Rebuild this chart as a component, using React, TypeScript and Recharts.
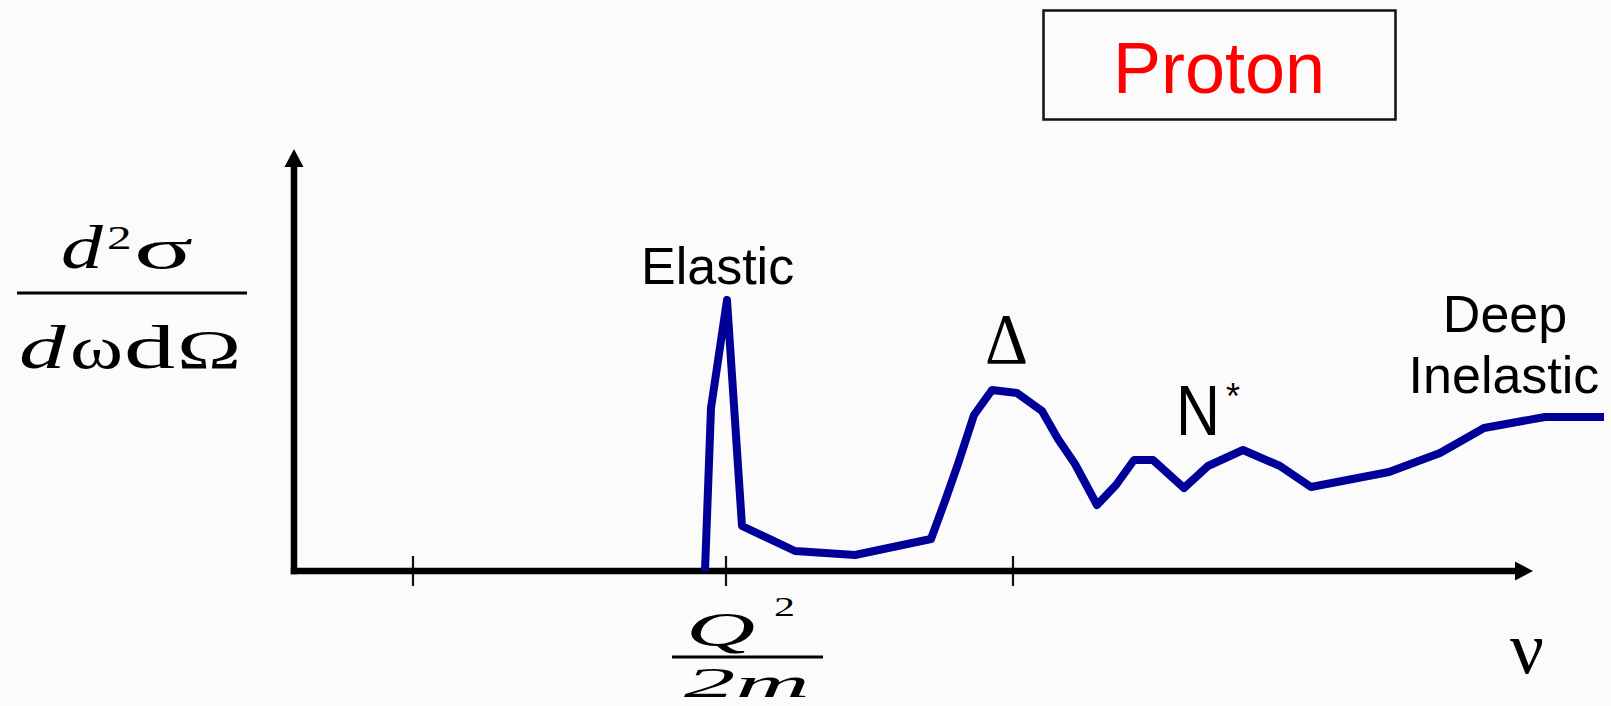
import React from 'react';
import { LineChart, Line, XAxis, YAxis, ReferenceLine } from 'recharts';

// energy transfer ν (arbitrary units) and cross-section (arbitrary units)
const nuValues = [41.1, 41.7, 43.3, 44.8, 50.1, 56.1, 63.7, 65.1, 66.4, 68.0, 69.8, 72.3, 74.8, 76.4, 78.1, 80.3, 82.2, 84.0, 85.9, 89.0, 91.4, 94.9, 98.6, 101.7, 109.5, 114.6, 119.0, 125.1, 131.0];
const crossSection = [0, 16.3, 27.1, 4.5, 2.0, 1.6, 3.2, 7.0, 10.7, 15.6, 18.1, 17.8, 16.0, 13.2, 10.7, 6.6, 8.6, 11.1, 11.1, 8.3, 10.5, 12.1, 10.5, 8.4, 9.9, 11.8, 14.3, 15.4, 15.4];
const tickPositions = [11.9, 43.2, 71.9];

const X_MAX = 131;
const Y_MAX = 42;
const X_ARROW_END = 123.9;
const Y_ARROW_END = 42.2;
const TICK_LOW = -1.5;
const TICK_HIGH = 1.5;

const data = nuValues.map((x, i) => ({ x, y: crossSection[i] }));

const W = 1611;
const H = 706;
const SANS = "'Liberation Sans', Arial, sans-serif";
const SERIF = "'Liberation Serif', 'Times New Roman', serif";

const ArrowShape = (props: any) => {
  const { x1, y1, x2, y2 } = props;
  const dx = x2 - x1;
  const dy = y2 - y1;
  const len = Math.sqrt(dx * dx + dy * dy) || 1;
  const ux = dx / len;
  const uy = dy / len;
  const px = -uy;
  const py = ux;
  const L = 18;
  const hw = 9.5;
  const bx = x2 - ux * L;
  const by = y2 - uy * L;
  return (
    <g>
      <line x1={x1} y1={y1} x2={bx + ux * 2} y2={by + uy * 2} style={{ stroke: '#000', strokeWidth: 6.5, strokeLinecap: 'square' }} />
      <polygon points={`${x2},${y2} ${bx + px * hw},${by + py * hw} ${bx - px * hw},${by - py * hw}`} fill="#000" />
    </g>
  );
};

const TickShape = (props: any) => {
  const { x1, y1, x2, y2 } = props;
  return <line x1={x1} y1={y1} x2={x2} y2={y2} stroke="#111" strokeWidth={2.2} />;
};

type STProps = {
  x: number;
  y: number;
  size: number;
  sx?: number;
  italic?: boolean;
  family?: string;
  children: React.ReactNode;
};

const ST = ({ x, y, size, sx = 1, italic = false, family = SERIF, children }: STProps) => (
  <text
    transform={`translate(${x},${y}) scale(${sx},1)`}
    fontSize={size}
    fontFamily={family}
    fontStyle={italic ? 'italic' : 'normal'}
    fill="#000"
  >
    {children}
  </text>
);

export default function App() {
  return (
    <div style={{ position: 'absolute', left: 0, top: 0, width: W, height: H, background: '#fbfbfb', overflow: 'hidden' }}>
      <LineChart
        width={W}
        height={H}
        data={data}
        margin={{ left: 294, right: W - 1604, top: 151, bottom: H - 571 }}
      >
        <XAxis dataKey="x" type="number" domain={[0, X_MAX]} hide allowDataOverflow />
        <YAxis type="number" domain={[0, Y_MAX]} hide allowDataOverflow />
        {tickPositions.map((t) => (
          <ReferenceLine
            key={t}
            segment={[{ x: t, y: TICK_LOW }, { x: t, y: TICK_HIGH }]}
            ifOverflow="visible"
            shape={TickShape}
          />
        ))}
        <ReferenceLine segment={[{ x: 0, y: 0 }, { x: X_ARROW_END, y: 0 }]} ifOverflow="visible" shape={ArrowShape} />
        <ReferenceLine segment={[{ x: 0, y: 0 }, { x: 0, y: Y_ARROW_END }]} ifOverflow="visible" shape={ArrowShape} />
        <Line
          type="linear"
          dataKey="y"
          stroke="#000099"
          strokeWidth={9}
          strokeLinejoin="round"
          style={{ strokeWidth: 8 }}
          dot={false}
          isAnimationActive={false}
        />
      </LineChart>
      <svg width={W} height={H} style={{ position: 'absolute', left: 0, top: 0, pointerEvents: 'none' }}>
        {/* Proton box */}
        <rect x={1043.5} y={10.5} width={352} height={109} fill="none" stroke="#111" strokeWidth={2.5} />
        <text x={1219} y={93} fontSize={72} fontFamily={SANS} fill="#ff0000" textAnchor="middle">Proton</text>

        {/* y-axis label: d²σ / dωdΩ */}
        <ST x={61} y={268} size={62} sx={1.35} italic>d</ST>
        <ST x={107} y={249} size={34} sx={1.45}>2</ST>
        <ST x={134} y={268} size={58} sx={1.9}>σ</ST>
        <line x1={17} x2={247} y1={293} y2={293} stroke="#000" strokeWidth={3} />
        <ST x={19} y={368} size={62} sx={1.5} italic>d</ST>
        <ST x={70} y={368} size={62} sx={1.3}>ω</ST>
        <ST x={124} y={368} size={62} sx={1.65}>d</ST>
        <ST x={177} y={368} size={54} sx={1.6}>Ω</ST>

        {/* x-axis tick label Q²/2m */}
        <ST x={686} y={646} size={48} sx={2.0} italic>Q</ST>
        <ST x={774} y={616} size={28} sx={1.5}>2</ST>
        <line x1={672} x2={823} y1={657} y2={657} stroke="#000" strokeWidth={3} />
        <ST x={684} y={697} size={42} sx={2.45} italic>2m</ST>

        {/* x-axis name */}
        <text x={1510} y={673} fontSize={74} fontFamily={SERIF} textLength={34} lengthAdjust="spacingAndGlyphs">ν</text>

        {/* annotations */}
        <text x={641} y={284} fontSize={52} fontFamily={SANS} fill="#000">Elastic</text>
        <text x={985} y={363} fontSize={72} fontFamily={SERIF} textLength={43} lengthAdjust="spacingAndGlyphs">Δ</text>
        <text x={1176} y={435} fontSize={70} fontFamily={SANS} textLength={44} lengthAdjust="spacingAndGlyphs">N</text>
        <text x={1226} y={409} fontSize={36} fontFamily={SANS}>*</text>
        <text x={1505} y={332} fontSize={52} fontFamily={SANS} textAnchor="middle">Deep</text>
        <text x={1504} y={393} fontSize={52} fontFamily={SANS} textAnchor="middle">Inelastic</text>
      </svg>
    </div>
  );
}
